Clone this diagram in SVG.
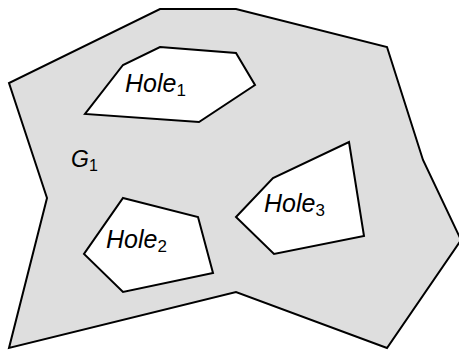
<svg xmlns="http://www.w3.org/2000/svg" width="459" height="350" viewBox="0 0 459 350">
<style>
.outer{fill:#dedede;stroke:#000;stroke-width:2;stroke-linejoin:miter}
.hole{fill:#fff;stroke:#000;stroke-width:2;stroke-linejoin:miter}
.lbl{font-family:"Liberation Sans",Arial,sans-serif;font-style:italic;fill:#000}
.big{font-size:25px}
.sub{font-style:normal;font-size:17px}
.g{font-size:23px}
.gsub{font-style:normal;font-size:16px}
</style>
<g id="G1">
<polygon class="outer" points="160,9 236,9 387,47 423,160 461,240 387,348 236,292 9,348 47,198 9,83"/>
<text class="lbl g" x="71" y="167">G<tspan class="gsub" dy="4">1</tspan></text>
</g>
<g id="hole1">
<polygon class="hole" points="160,47 236,53 255,85 199,122 85,114 123,65"/>
<text class="lbl big" x="125" y="92">Hole<tspan class="sub" dy="4">1</tspan></text>
</g>
<g id="hole2">
<polygon class="hole" points="123,198 198,217 213,273 123,292 84,254"/>
<text class="lbl big" x="106" y="248">Hole<tspan class="sub" dy="4">2</tspan></text>
</g>
<g id="hole3">
<polygon class="hole" points="349,142 364,236 274,254 236,217 273,178"/>
<text class="lbl big" x="264" y="212">Hole<tspan class="sub" dy="4">3</tspan></text>
</g>
<g id="connectors"></g>
</svg>
